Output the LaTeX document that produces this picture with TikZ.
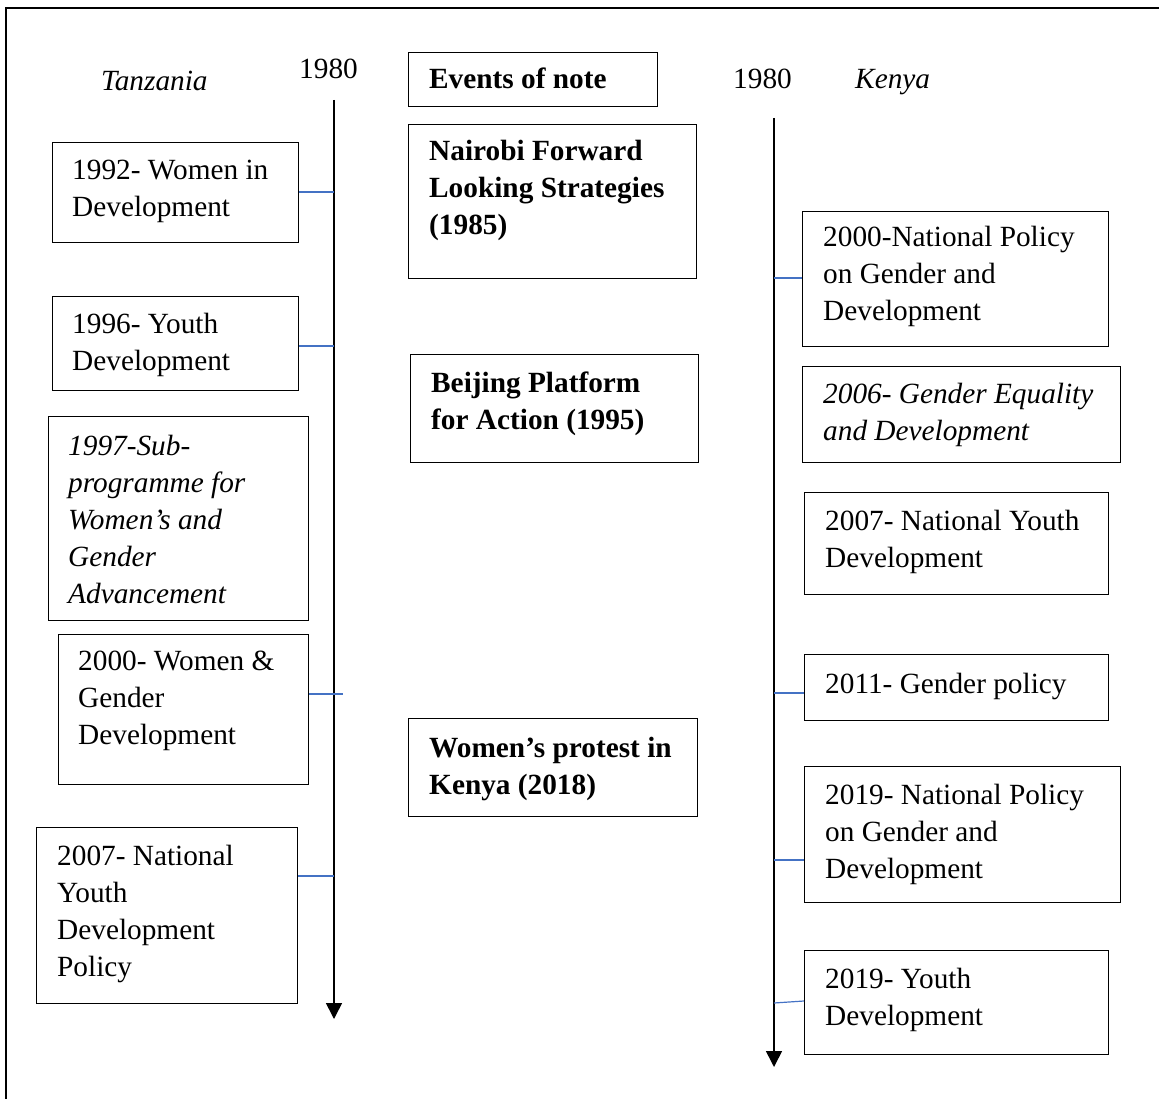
\documentclass[tikz,border=0pt]{standalone}
\usepackage{fontspec}
\setmainfont{Liberation Serif}
\usetikzlibrary{arrows.meta}
\newcommand\mlines[1]{\begin{tabular}[t]{@{}l@{}}#1\end{tabular}}
\begin{document}
\begin{tikzpicture}[x=1pt,y=-1pt,
  box/.style={draw, line width=1.2pt, anchor=north west, inner sep=0pt},
  txt/.style={anchor=base west, inner sep=0pt, font=\fontsize{29.3}{37}\selectfont},
  btxt/.style={txt, font=\fontsize{29.3}{37}\selectfont\bfseries},
  itxt/.style={txt, font=\fontsize{29.3}{37}\selectfont\itshape},
  conn/.style={draw={rgb,255:red,68;green,114;blue,196}, line width=1.2pt},
  timeline/.style={line width=1.6pt, -{Triangle[width=16pt,length=16pt]}}]
\useasboundingbox (0,0) rectangle (1159,1099);
% outer frame
\draw[line width=2pt] (6,1110) -- (6,8) -- (1170,8);

% headings
\node[itxt] (tz) at (101,91) {Tanzania};
\node[txt] (y1) at (299,79) {1980};
\node[txt] (y2) at (733,89) {1980};
\node[itxt] (ke) at (855,89) {Kenya};

% timelines
\coordinate (tzTop) at (334,100);
\coordinate (tzBot) at (334,1019);
\coordinate (keTop) at (774,118);
\coordinate (keBot) at (774,1067);
\draw[timeline] (tzTop) -- (tzBot);
\draw[timeline] (keTop) -- (keBot);

% Tanzania boxes
\node[box, minimum width=246pt, minimum height=100pt] (t1) at (52,142) {};
\node[txt] (t1t) at (72,180) {\mlines{1992- Women in\\Development}};
\node[box, minimum width=246pt, minimum height=94pt] (t2) at (52,296) {};
\node[txt] (t2t) at (72,333) {\mlines{1996- Youth\\Development}};
\node[box, minimum width=260pt, minimum height=204pt] (t3) at (48,416) {};
\node[itxt] (t3t) at (68,455) {\mlines{1997-Sub-\\programme for\\Women’s and\\Gender\\Advancement}};
\node[box, minimum width=250pt, minimum height=150pt] (t4) at (58,634) {};
\node[txt] (t4t) at (78,670) {\mlines{2000- Women \&\\Gender\\Development}};
\node[box, minimum width=261pt, minimum height=176pt] (t5) at (36,827) {};
\node[txt] (t5t) at (57,865) {\mlines{2007- National\\Youth\\Development\\Policy}};

% Tanzania connectors
\coordinate (c1) at (334,192);
\coordinate (c2) at (334,346);
\coordinate (c4) at (343,694);
\coordinate (c5) at (334,876);
\draw[conn] (t1.east |- c1) -- (c1);
\draw[conn] (t2.east |- c2) -- (c2);
\draw[conn] (t4.east |- c4) -- (c4);
\draw[conn] (t5.east |- c5) -- (c5);

% Events
\node[box, minimum width=249pt, minimum height=54pt] (e0) at (408,52) {};
\node[btxt] (e0t) at (429,89) {Events of note};
\node[box, minimum width=288pt, minimum height=154pt] (e1) at (408,124) {};
\node[btxt] (e1t) at (429,161) {\mlines{Nairobi Forward\\Looking Strategies\\(1985)}};
\node[box, minimum width=288pt, minimum height=108pt] (e2) at (410,354) {};
\node[btxt] (e2t) at (431,392) {\mlines{Beijing Platform\\for Action (1995)}};
\node[box, minimum width=289pt, minimum height=98pt] (e3) at (408,718) {};
\node[btxt] (e3t) at (429,757) {\mlines{Women’s protest in\\Kenya (2018)}};

% Kenya boxes
\node[box, minimum width=306pt, minimum height=135pt] (k1) at (802,211) {};
\node[txt] (k1t) at (823,247) {\mlines{2000-National Policy\\on Gender and\\Development}};
\node[box, minimum width=318pt, minimum height=96pt] (k2) at (802,366) {};
\node[itxt] (k2t) at (823,403) {\mlines{2006- Gender Equality\\and Development}};
\node[box, minimum width=304pt, minimum height=102pt] (k3) at (804,492) {};
\node[txt] (k3t) at (825,530) {\mlines{2007- National Youth\\Development}};
\node[box, minimum width=304pt, minimum height=66pt] (k4) at (804,654) {};
\node[txt] (k4t) at (825,693) {2011- Gender policy};
\node[box, minimum width=316pt, minimum height=136pt] (k5) at (804,766) {};
\node[txt] (k5t) at (825,804) {\mlines{2019- National Policy\\on Gender and\\Development}};
\node[box, minimum width=304pt, minimum height=104pt] (k6) at (804,950) {};
\node[txt] (k6t) at (825,988) {\mlines{2019- Youth\\Development}};

% Kenya connectors
\coordinate (d1) at (774,278);
\coordinate (d4) at (774,693);
\coordinate (d5) at (774,860);
\coordinate (d6) at (774,1003);
\coordinate (d6b) at (804,1001);
\draw[conn] (d1) -- (k1.west |- d1);
\draw[conn] (d4) -- (k4.west |- d4);
\draw[conn] (d5) -- (k5.west |- d5);
\draw[conn] (d6) -- (d6b);
\end{tikzpicture}
\end{document}
